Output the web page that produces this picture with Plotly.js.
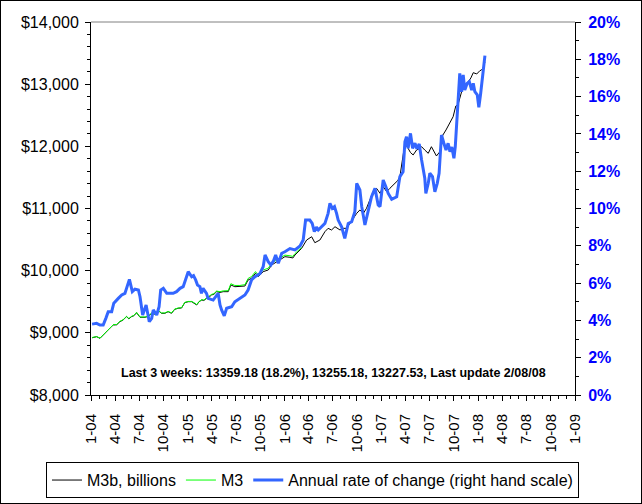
<!DOCTYPE html>
<html>
<head>
<meta charset="utf-8">
<script src="https://cdn.plot.ly/plotly-3.0.1.min.js"></script>
<style>
html,body{margin:0;padding:0;background:#fff;}
#wrap{position:relative;width:642px;height:504px;}
#chart{width:642px;height:504px;}
#frame{position:absolute;left:0;top:0;width:640px;height:502px;border:1px solid #000;pointer-events:none;}
</style>
</head>
<body>
<div id="wrap"><div id="chart"></div><div id="frame"></div></div>
<script>
// M3b (billions), weekly-ish readings
const m3bDates = ['2004-01-05','2004-01-22','2004-02-04','2004-02-15','2004-02-29','2004-03-12','2004-03-25','2004-04-07','2004-04-19','2004-05-01','2004-05-14','2004-05-23','2004-06-02','2004-06-11','2004-06-21','2004-07-04','2004-07-23','2004-08-04','2004-08-17','2004-08-29','2004-09-11','2004-09-23','2004-10-06','2004-10-18','2004-10-31','2004-11-12','2004-11-25','2004-12-08','2004-12-20','2005-01-02','2005-01-15','2005-01-24','2005-02-03','2005-02-12','2005-02-22','2005-03-02','2005-03-12','2005-03-21','2005-03-31','2005-04-09','2005-04-19','2005-05-02','2005-05-14','2005-06-02','2005-06-12','2005-06-27','2005-07-16','2005-08-04','2005-08-16','2005-08-29','2005-09-13','2005-09-23','2005-10-12','2005-10-31','2005-11-13','2005-12-02','2005-12-21','2006-01-02','2006-01-21','2006-02-01','2006-02-09','2006-02-20','2006-03-06','2006-03-25','2006-04-13','2006-04-25','2006-05-14','2006-06-02','2006-06-14','2006-06-27','2006-07-10','2006-07-29','2006-08-10','2006-08-23','2006-09-04','2006-09-17','2006-09-30','2006-10-12','2006-10-25','2006-11-06','2006-11-19','2006-12-01','2006-12-14','2006-12-27','2007-01-08','2007-01-21','2007-02-02','2007-02-21','2007-03-04','2007-03-12','2007-03-18','2007-03-25','2007-03-31','2007-04-12','2007-04-21','2007-05-01','2007-05-14','2007-05-23','2007-06-02','2007-06-14','2007-06-27','2007-07-09','2007-07-22','2007-07-28','2007-08-10','2007-08-21','2007-09-02','2007-09-17','2007-09-29','2007-10-09','2007-10-17','2007-10-31','2007-11-12','2007-11-25','2007-12-05','2007-12-14','2007-12-27','2008-01-08','2008-01-14','2008-01-20','2008-01-27'];
const m3bValues = [8920,8938,8912,8965,9018,9073,9126,9130,9179,9206,9260,9225,9260,9275,9324,9250,9250,9265,9314,9300,9356,9314,9314,9340,9314,9378,9395,9400,9485,9501,9501,9480,9448,9500,9528,9520,9555,9570,9609,9620,9662,9650,9662,9662,9770,9742,9742,9753,9850,9877,9957,9903,9984,10011,10091,10145,10198,10225,10215,10204,10252,10300,10359,10493,10546,10450,10493,10627,10681,10654,10707,10654,10681,10681,10762,10842,10922,10976,10922,11003,11137,11271,11324,11244,11351,11271,11324,11394,11450,11512,11672,11850,12048,11968,11900,11861,11941,11960,11994,11940,11888,11994,11888,11845,11914,12180,12263,12370,12477,12649,12665,12879,12986,13040,13100,13185,13164,13217,13228,13255,13359];

// M3 (discontinued March 2006)
const m3Dates = ['2004-01-05','2004-01-22','2004-02-04','2004-02-15','2004-02-29','2004-03-12','2004-03-25','2004-04-07','2004-04-19','2004-05-01','2004-05-14','2004-05-23','2004-06-02','2004-06-11','2004-06-21','2004-07-04','2004-07-23','2004-08-04','2004-08-17','2004-08-29','2004-09-11','2004-09-23','2004-10-06','2004-10-18','2004-10-31','2004-11-12','2004-11-25','2004-12-08','2004-12-20','2005-01-02','2005-01-15','2005-01-24','2005-02-03','2005-02-12','2005-02-22','2005-03-02','2005-03-12','2005-03-21','2005-03-31','2005-04-09','2005-04-19','2005-05-02','2005-05-14','2005-06-02','2005-06-12','2005-06-27','2005-07-16','2005-08-04','2005-08-16','2005-08-29','2005-09-13','2005-09-23','2005-10-12','2005-10-31','2005-11-13','2005-12-02','2005-12-21','2006-01-02','2006-01-21','2006-02-01','2006-02-09','2006-02-20','2006-03-06'];
const m3Values = [8925,8940,8915,8968,9020,9075,9130,9135,9185,9210,9265,9230,9265,9280,9330,9255,9255,9270,9318,9305,9360,9320,9320,9345,9320,9382,9400,9405,9490,9505,9505,9485,9455,9505,9533,9528,9562,9578,9618,9630,9672,9662,9675,9678,9790,9762,9762,9775,9875,9905,9985,9930,10010,10040,10118,10172,10225,10250,10240,10230,10275,10322,10375];

// Annual rate of change, percent (right hand scale)
const rateDates = ['2004-01-05','2004-01-22','2004-02-04','2004-02-16','2004-02-26','2004-03-06','2004-03-19','2004-03-27','2004-04-13','2004-04-26','2004-05-08','2004-05-17','2004-05-25','2004-06-05','2004-06-15','2004-06-28','2004-07-04','2004-07-14','2004-07-27','2004-08-08','2004-08-17','2004-08-23','2004-09-05','2004-09-14','2004-09-20','2004-09-30','2004-10-13','2004-10-25','2004-11-06','2004-11-19','2004-12-02','2004-12-14','2004-12-27','2005-01-02','2005-01-15','2005-01-22','2005-01-30','2005-02-06','2005-02-15','2005-02-21','2005-02-27','2005-03-12','2005-03-18','2005-04-06','2005-04-25','2005-05-02','2005-05-08','2005-05-18','2005-05-27','2005-06-15','2005-06-27','2005-07-16','2005-08-04','2005-08-16','2005-08-29','2005-09-11','2005-09-30','2005-10-12','2005-10-19','2005-10-31','2005-11-10','2005-11-20','2005-11-28','2005-12-08','2005-12-21','2006-01-02','2006-01-21','2006-02-09','2006-02-28','2006-03-12','2006-03-21','2006-04-06','2006-04-15','2006-04-23','2006-05-01','2006-05-08','2006-05-21','2006-06-02','2006-06-14','2006-06-21','2006-06-30','2006-07-08','2006-07-16','2006-07-22','2006-08-04','2006-08-16','2006-08-29','2006-09-11','2006-09-23','2006-09-30','2006-10-12','2006-10-19','2006-10-31','2006-11-12','2006-11-25','2006-12-08','2006-12-20','2006-12-27','2007-01-08','2007-01-18','2007-01-27','2007-02-09','2007-02-19','2007-02-28','2007-03-12','2007-03-24','2007-03-31','2007-04-06','2007-04-12','2007-04-21','2007-04-29','2007-05-08','2007-05-15','2007-05-24','2007-06-02','2007-06-08','2007-06-14','2007-06-18','2007-06-27','2007-07-03','2007-07-13','2007-07-22','2007-07-31','2007-08-07','2007-08-16','2007-08-25','2007-09-02','2007-09-10','2007-09-17','2007-09-24','2007-10-02','2007-10-07','2007-10-14','2007-10-24','2007-10-31','2007-11-06','2007-11-12','2007-11-21','2007-11-29','2007-12-08','2007-12-14','2007-12-20','2007-12-29','2008-01-04','2008-01-11','2008-01-16','2008-01-20','2008-01-27'];
const rateValues = [3.8,3.84,3.75,3.75,4.11,4.47,4.47,4.92,5.18,5.36,5.45,5.81,6.2,5.54,5.67,5.63,5.27,4.29,4.83,3.93,4.11,4.56,4.29,4.73,5.63,5.72,5.45,5.45,5.45,5.54,5.72,5.81,6.34,6.61,6.34,6.4,6.17,5.9,5.81,5.45,5.72,5.45,5.18,5.09,5.45,4.83,4.56,4.24,4.65,4.73,5.0,5.18,5.36,5.63,6.17,6.34,6.52,6.88,7.51,7.15,6.97,7.2,7.51,7.06,7.6,7.68,7.85,7.78,7.99,8.31,9.38,9.38,9.2,8.76,9.0,8.85,9.02,9.2,9.74,10.28,10.01,10.1,9.74,9.38,9.02,8.4,9.2,9.29,9.83,11.35,10.99,10.1,9.12,9.92,10.63,11.08,10.19,10.1,11.53,11.17,10.81,10.49,10.55,10.63,11.71,11.97,13.58,13.85,13.23,14.03,13.23,13.5,13.2,13.46,12.6,12.16,11.62,10.81,11.35,11.89,11.71,10.9,11.35,11.89,13.94,13.5,13.14,13.5,13.05,13.3,12.69,13.31,14.92,17.25,16.26,17.16,16.35,16.71,16.8,16.35,16.71,16.26,16.09,15.43,16.18,16.8,17.43,18.2];

const seriesNames = ['M3b, billions','M3','Annual rate of change (right hand scale)'];
const noteText = 'Last 3 weeks: 13359.18 (18.2%), 13255.18, 13227.53, Last update 2/08/08';

const FONT = 'Arial, "Liberation Sans", sans-serif';

const traces = [
  {x: m3bDates, y: m3bValues, name: seriesNames[0], type: 'scatter', mode: 'lines',
   line: {color: '#000000', width: 1}, yaxis: 'y'},
  {x: m3Dates, y: m3Values, name: seriesNames[1], type: 'scatter', mode: 'lines',
   line: {color: '#00FF00', width: 1}, yaxis: 'y'},
  {x: rateDates, y: rateValues, name: seriesNames[2], type: 'scatter', mode: 'lines',
   line: {color: '#3366FF', width: 3}, yaxis: 'y2'}
];

const layout = {
  width: 642, height: 504,
  margin: {l: 91, r: 67, t: 22, b: 109, pad: 0, autoexpand: false},
  paper_bgcolor: '#ffffff', plot_bgcolor: '#ffffff',
  font: {family: FONT, color: '#000', size: 16},
  showlegend: true,
  xaxis: {
    type: 'date', range: ['2004-01-01', '2009-01-01'],
    tick0: '2004-01-01', dtick: 'M3', tickformat: '%-m-%y', tickangle: -90,
    showgrid: false, zeroline: false, showline: true, linecolor: '#000', linewidth: 1,
    ticks: 'outside', ticklen: 5, tickcolor: '#000', ticklabelstandoff: 7,
    minor: {dtick: 'M1', ticks: 'outside', ticklen: 3, tickcolor: '#000', showgrid: false},
    tickfont: {family: FONT, size: 15, color: '#000'}
  },
  yaxis: {
    range: [8000, 14000], dtick: 1000, tickprefix: '$', tickformat: ',.0f',
    showgrid: false, zeroline: false, showline: true, linecolor: '#000', linewidth: 1,
    ticks: 'outside', ticklen: 5, tickcolor: '#000', ticklabelstandoff: 3,
    minor: {dtick: 200, ticks: 'outside', ticklen: 3, tickcolor: '#000', showgrid: false},
    tickfont: {family: FONT, size: 16, color: '#000'}
  },
  yaxis2: {
    overlaying: 'y', side: 'right',
    range: [0, 20], dtick: 2, ticksuffix: '%',
    showgrid: false, zeroline: false, showline: true, linecolor: '#000', linewidth: 1,
    ticks: 'outside', ticklen: 5, tickcolor: '#000', ticklabelstandoff: 4,
    minor: {dtick: 1, ticks: 'outside', ticklen: 3, tickcolor: '#000', showgrid: false},
    tickfont: {family: FONT, size: 16, color: '#0000FF', weight: 'bold'}
  },
  shapes: [
    {type: 'line', xref: 'paper', yref: 'paper', x0: 0, x1: 1, y0: 1, y1: 1,
     line: {color: '#808080', width: 1}}
  ],
  annotations: [
    {text: noteText, xref: 'paper', yref: 'paper', x: 0.5, y: 0.059,
     xanchor: 'center', yanchor: 'middle', showarrow: false,
     font: {family: FONT, size: 12.5, color: '#000', weight: 'bold'}}
  ],
  legend: {
    orientation: 'h', xref: 'paper', yref: 'paper',
    x: -0.093, xanchor: 'left', y: -0.18, yanchor: 'top',
    bgcolor: '#ffffff', bordercolor: '#000', borderwidth: 1,
    itemwidth: 30,
    font: {family: FONT, size: 16, color: '#000'},
    traceorder: 'normal'
  }
};

Plotly.newPlot('chart', traces, layout, {displayModeBar: false, staticPlot: true});
</script>
</body>
</html>
